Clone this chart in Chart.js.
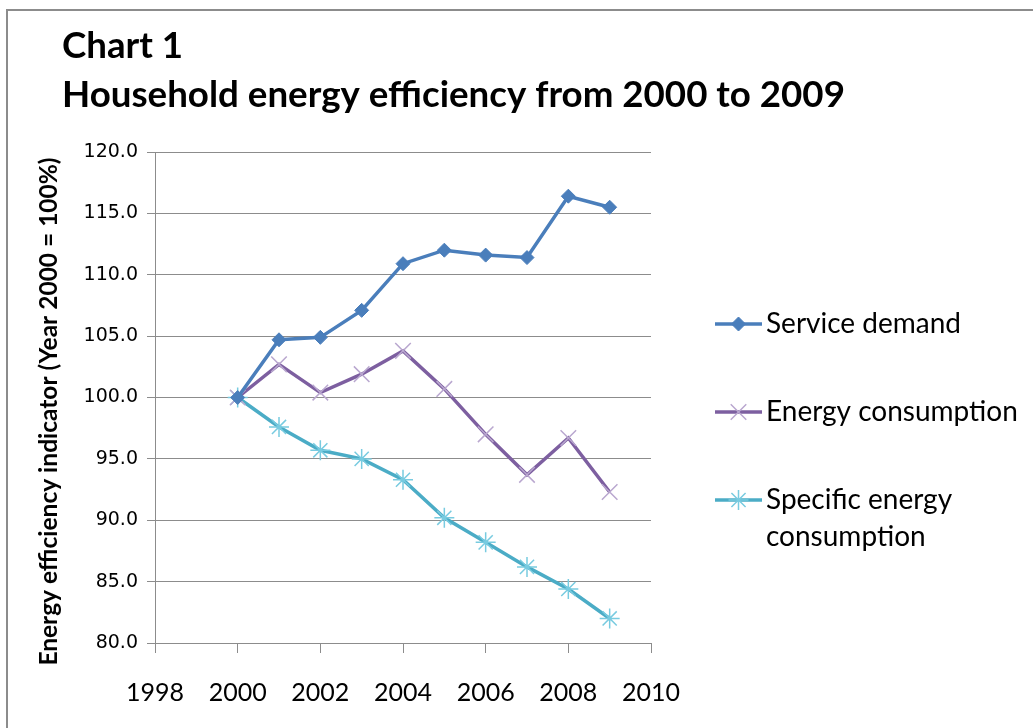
<!DOCTYPE html>
<html>
<head>
<meta charset="utf-8">
<title>Household energy efficiency from 2000 to 2009</title>
<script src="https://cdn.jsdelivr.net/npm/chart.js@4.4.1/dist/chart.umd.min.js"></script>
<style>
  html, body { margin: 0; padding: 0; background: #fff; }
  #wrap { position: relative; width: 1033px; height: 728px; overflow: hidden; }
  #frame { position: absolute; left: 6px; top: 9px; right: -10px; bottom: -10px; border: 2px solid #8c8c8c; }
  canvas { position: absolute; left: 0; top: 0; }
</style>
</head>
<body>
<div id="wrap">
  <div id="frame"></div>
  <canvas id="energyChart" width="1033" height="728"></canvas>
</div>
<script>
// Chart data (index, year 2000 = 100)
const years = [2000, 2001, 2002, 2003, 2004, 2005, 2006, 2007, 2008, 2009];
const serviceDemand = [100.0, 104.7, 104.9, 107.1, 110.9, 112.0, 111.6, 111.4, 116.4, 115.5];
const energyConsumption = [100.0, 102.7, 100.4, 101.9, 103.8, 100.7, 97.0, 93.7, 96.7, 92.3];
const specificConsumption = [100.0, 97.6, 95.7, 95.0, 93.3, 90.2, 88.2, 86.2, 84.4, 82.0];

const seriesNames = ['Service demand', 'Energy consumption', ['Specific energy', 'consumption']];
const headingLines = ['Chart 1', 'Household energy efficiency from 2000 to 2009'];
const yAxisTitle = 'Energy efficiency indicator (Year 2000 = 100%)';
const yTicks = { min: 80, max: 120, step: 5 };
const xTicks = { min: 1998, max: 2010, step: 2 };

function toPoints(values) {
  return values.map((v, i) => ({ x: years[i], y: v }));
}

// Heading drawn top-left, plus the rotated y axis title
const headingPlugin = {
  id: 'heading',
  afterDraw(chart, args, opts) {
    const ctx = chart.ctx;
    const area = chart.chartArea;
    ctx.save();
    ctx.fillStyle = '#000';
    ctx.font = 'bold 36.7px Lato';
    ctx.textBaseline = 'alphabetic';
    ctx.textAlign = 'left';
    opts.lines.forEach((line, i) => {
      ctx.fillText(line, opts.x, opts.y + i * opts.lineGap);
    });

    // y axis title, a little below the middle of the plot like the original
    ctx.translate(opts.axisTitleX, (area.top + area.bottom) / 2 + opts.axisTitleShift);
    ctx.rotate(-Math.PI / 2);
    ctx.font = 'bold 24.5px Lato';
    ctx.textAlign = 'center';
    ctx.textBaseline = 'middle';
    ctx.fillText(yAxisTitle, 0, 0);
    ctx.restore();
  }
};

// Legend on the right, with wrapped label for the last series
const sideLegendPlugin = {
  id: 'sideLegend',
  afterDraw(chart, args, opts) {
    const ctx = chart.ctx;
    const x0 = chart.chartArea.right + opts.offsetX;
    ctx.save();
    chart.data.datasets.forEach((ds, i) => {
      const y = opts.rows[i];
      ctx.strokeStyle = ds.borderColor;
      ctx.lineWidth = ds.borderWidth;
      ctx.beginPath();
      ctx.moveTo(x0, y);
      ctx.lineTo(x0 + opts.lineLength, y);
      ctx.stroke();

      ctx.strokeStyle = ds.pointBorderColor;
      ctx.fillStyle = ds.pointBackgroundColor;
      ctx.lineWidth = ds.pointBorderWidth;
      Chart.helpers.drawPoint(ctx, {
        pointStyle: ds.pointStyle,
        radius: ds.pointRadius,
        rotation: 0,
        borderWidth: ds.pointBorderWidth
      }, x0 + opts.lineLength / 2, y);

      ctx.fillStyle = '#000';
      ctx.font = opts.font;
      ctx.textBaseline = 'middle';
      ctx.textAlign = 'left';
      const text = [].concat(seriesNames[i]);
      text.forEach((t, j) => {
        ctx.fillText(t, x0 + opts.lineLength + 4, y + j * opts.lineGap);
      });
    });
    ctx.restore();
  }
};

const ctx = document.getElementById('energyChart').getContext('2d');
const energyChart = new Chart(ctx, {
  type: 'line',
  data: {
    datasets: [{
      label: 'Service demand',
      data: toPoints(serviceDemand),
      borderColor: '#4a7ebb',
      borderWidth: 3.5,
      pointStyle: 'rectRot',
      pointRadius: 7,
      pointBackgroundColor: '#4a7ebb',
      pointBorderColor: '#4a7ebb',
      pointBorderWidth: 1
    }, {
      label: 'Energy consumption',
      data: toPoints(energyConsumption),
      borderColor: '#7d5fa0',
      borderWidth: 3.5,
      pointStyle: 'crossRot',
      pointRadius: 11,
      pointBackgroundColor: '#b9a7cf',
      pointBorderColor: '#b9a7cf',
      pointBorderWidth: 1.5
    }, {
      label: 'Specific energy consumption',
      data: toPoints(specificConsumption),
      borderColor: '#4bacc6',
      borderWidth: 3.5,
      pointStyle: 'star',
      pointRadius: 10,
      pointBackgroundColor: '#78cbe0',
      pointBorderColor: '#78cbe0',
      pointBorderWidth: 1.5
    }]
  },
  options: {
    responsive: false,
    animation: false,
    events: [],
    layout: { padding: { top: 152, right: 382, bottom: 0, left: 0 } },
    elements: { line: { tension: 0 } },
    scales: {
      x: {
        type: 'linear',
        min: xTicks.min,
        max: xTicks.max,
        ticks: {
          stepSize: xTicks.step,
          color: '#000',
          padding: 25,
          font: { family: 'Lato', size: 25 },
          callback: v => String(v)
        },
        grid: { drawOnChartArea: false, tickLength: 10, color: '#8c8c8c' },
        border: { color: '#8c8c8c' },
        afterFit: scale => { scale.height = 85; }
      },
      y: {
        min: yTicks.min,
        max: yTicks.max,
        ticks: {
          stepSize: yTicks.step,
          color: '#000',
          padding: 9,
          font: { family: 'DejaVu Sans', size: 19 },
          callback: v => v.toFixed(1)
        },
        grid: { color: '#8c8c8c', tickLength: 8 },
        border: { color: '#8c8c8c' },
        afterFit: scale => { scale.width = 155; }
      }
    },
    plugins: {
      legend: { display: false },
      tooltip: { enabled: false },
      heading: { lines: headingLines, x: 62, y: 58, lineGap: 49, axisTitleX: 49, axisTitleShift: 14 },
      sideLegend: {
        offsetX: 64,
        lineLength: 47,
        rows: [324, 412, 500],
        lineGap: 37,
        font: '28px Lato'
      }
    }
  },
  plugins: [headingPlugin, sideLegendPlugin]
});
</script>
</body>
</html>
